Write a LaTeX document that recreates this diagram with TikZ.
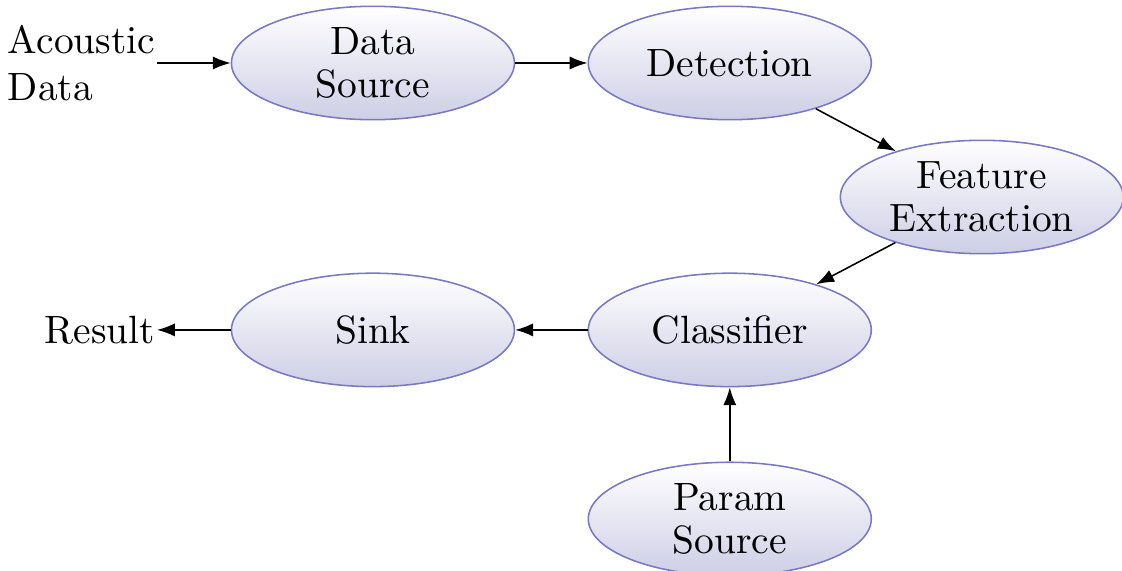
\documentclass[tikz,border=0pt]{standalone}
\usepackage{tikz}
\usetikzlibrary{arrows.meta,shapes.geometric}
\definecolor{blockedge}{RGB}{120,120,200}
\definecolor{blockbot}{RGB}{206,206,230}
\tikzset{
  block/.style={ellipse, draw=blockedge, top color=white, bottom color=blockbot,
                minimum width=2.57cm, minimum height=1.03cm, inner sep=0pt, align=center,
                font=\fontsize{10.2}{11.2}\selectfont},
  io/.style={inner sep=0.3pt, align=left, font=\fontsize{10.2}{12}\selectfont},
  arr/.style={-{Latex[length=4.6pt,width=3.4pt]}},
}
\begin{document}
\begin{tikzpicture}
  \useasboundingbox (0,0) rectangle (10.19,-5.185);
  \node[block] (ds) at (3.387,-0.572) {Data\\Source};
  \node[block] (det) at (6.628,-0.572) {Detection};
  \node[block] (feat) at (8.917,-1.789) {Feature\\Extraction};
  \node[block] (cls) at (6.628,-2.996) {Classifier};
  \node[block] (sink) at (3.387,-2.996) {Sink};
  \node[block] (par) at (6.628,-4.713) {Param\\Source};
  \node[io, anchor=east] (in) at (1.426,-0.572) {Acoustic\\Data};
  \node[io, anchor=east] (res) at (1.426,-2.996) {Result};
  \draw[arr] (in) -- (ds); \draw[arr] (ds) -- (det); \draw[arr] (det) -- (feat);
  \draw[arr] (feat) -- (cls); \draw[arr] (cls) -- (sink); \draw[arr] (sink) -- (res);
  \draw[arr] (par) -- (cls);
\end{tikzpicture}
\end{document}
